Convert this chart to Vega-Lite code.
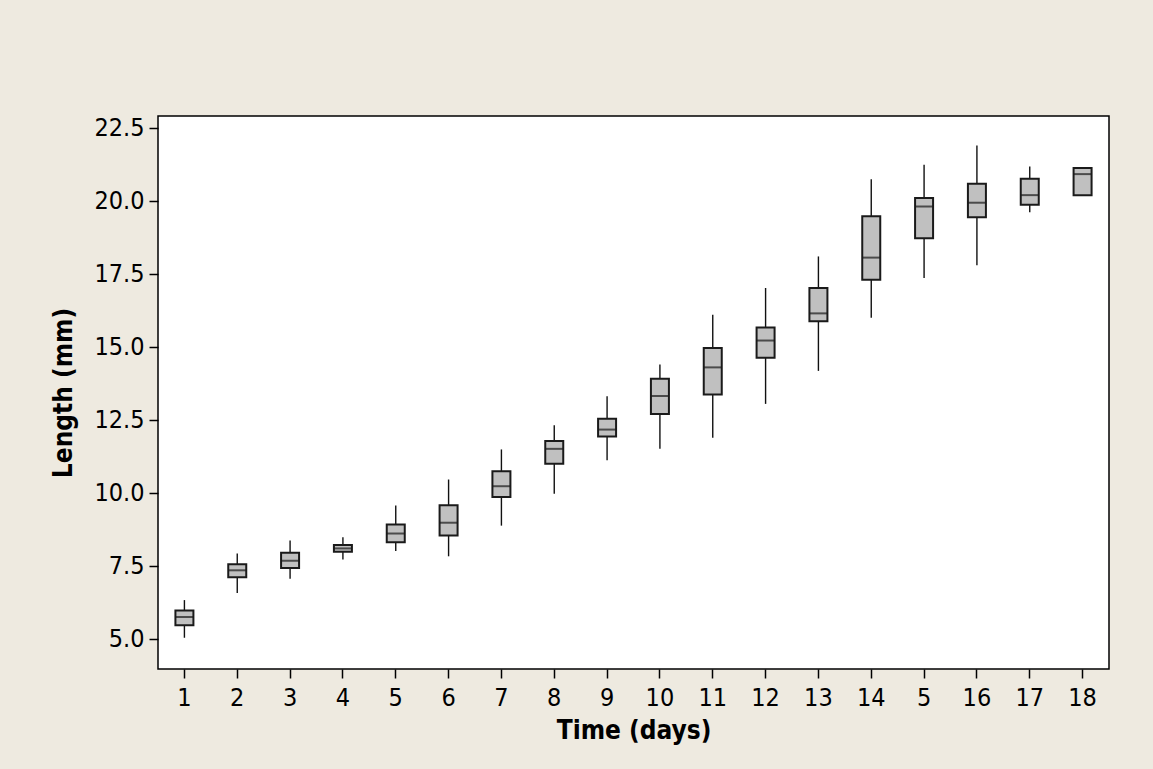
{
  "$schema": "https://vega.github.io/schema/vega-lite/v6.json",
  "autosize": {"type": "none"},
  "width": 951,
  "height": 553,
  "padding": {"left": 158, "top": 116, "right": 44, "bottom": 100},
  "background": "#EEEAE0",
  "config": {
    "view": {"fill": "#FFFFFF", "stroke": "#000000", "strokeWidth": 1.5},
    "axis": {
      "domain": false,
      "grid": false,
      "tickColor": "#000000",
      "tickWidth": 1.5,
      "tickSize": 9,
      "labelColor": "#000000",
      "labelFont": "DejaVu Sans Condensed, DejaVu Sans",
      "labelFontSize": 25,
      "titleColor": "#000000",
      "titleFont": "DejaVu Sans Condensed, DejaVu Sans",
      "titleFontSize": 26,
      "titleFontWeight": "bold"
    }
  },
  "data": {
    "values": [
      {"day": 1, "min": 5.04, "q1": 5.47, "median": 5.75, "q3": 5.97, "max": 6.33},
      {"day": 2, "min": 6.57, "q1": 7.11, "median": 7.35, "q3": 7.56, "max": 7.93},
      {"day": 3, "min": 7.06, "q1": 7.43, "median": 7.68, "q3": 7.95, "max": 8.37},
      {"day": 4, "min": 7.72, "q1": 7.99, "median": 8.10, "q3": 8.22, "max": 8.48},
      {"day": 5, "min": 8.01, "q1": 8.31, "median": 8.61, "q3": 8.92, "max": 9.57},
      {"day": 6, "min": 7.83, "q1": 8.54, "median": 8.98, "q3": 9.58, "max": 10.46},
      {"day": 7, "min": 8.88, "q1": 9.86, "median": 10.23, "q3": 10.74, "max": 11.49},
      {"day": 8, "min": 9.97, "q1": 11.00, "median": 11.51, "q3": 11.78, "max": 12.32},
      {"day": 9, "min": 11.12, "q1": 11.93, "median": 12.17, "q3": 12.54, "max": 13.31},
      {"day": 10, "min": 11.51, "q1": 12.70, "median": 13.32, "q3": 13.91, "max": 14.40},
      {"day": 11, "min": 11.89, "q1": 13.37, "median": 14.30, "q3": 14.96, "max": 16.10},
      {"day": 12, "min": 13.05, "q1": 14.63, "median": 15.22, "q3": 15.67, "max": 17.02},
      {"day": 13, "min": 14.18, "q1": 15.88, "median": 16.15, "q3": 17.02, "max": 18.10},
      {"day": 14, "min": 16.00, "q1": 17.30, "median": 18.06, "q3": 19.48, "max": 20.74},
      {"day": 15, "min": 17.36, "q1": 18.72, "median": 19.81, "q3": 20.10, "max": 21.24},
      {"day": 16, "min": 17.80, "q1": 19.44, "median": 19.94, "q3": 20.59, "max": 21.90},
      {"day": 17, "min": 19.61, "q1": 19.87, "median": 20.20, "q3": 20.76, "max": 21.18},
      {"day": 18, "min": 20.20, "q1": 20.20, "median": 20.92, "q3": 21.13, "max": 21.15}
    ]
  },
  "encoding": {
    "x": {
      "field": "day",
      "type": "ordinal",
      "sort": "ascending",
      "scale": {"type": "band", "paddingInner": 0.6, "paddingOuter": 0.3},
      "axis": {
        "title": "Time (days)",
        "labelAngle": 0,
        "labelPadding": 7,
        "titlePadding": 7,
        "labelExpr": "datum.value == 15 ? '5' : datum.label"
      }
    }
  },
  "layer": [
    {
      "mark": {"type": "rule", "color": "#111111", "strokeWidth": 1.4},
      "encoding": {
        "y": {
          "field": "min",
          "type": "quantitative",
          "scale": {"domain": [3.97, 22.91], "nice": false, "zero": false},
          "axis": {
            "title": "Length (mm)",
            "values": [5, 7.5, 10, 12.5, 15, 17.5, 20, 22.5],
            "format": ".1f",
            "labelPadding": 5,
            "titlePadding": 17
          }
        },
        "y2": {"field": "max"}
      }
    },
    {
      "mark": {"type": "bar", "width": 18, "fill": "#C0C0C0", "stroke": "#1A1A1A", "strokeWidth": 2},
      "encoding": {
        "y": {"field": "q1", "type": "quantitative"},
        "y2": {"field": "q3"}
      }
    },
    {
      "mark": {"type": "tick", "size": 18, "thickness": 2, "color": "#1A1A1A"},
      "encoding": {
        "y": {"field": "median", "type": "quantitative"}
      }
    }
  ]
}
